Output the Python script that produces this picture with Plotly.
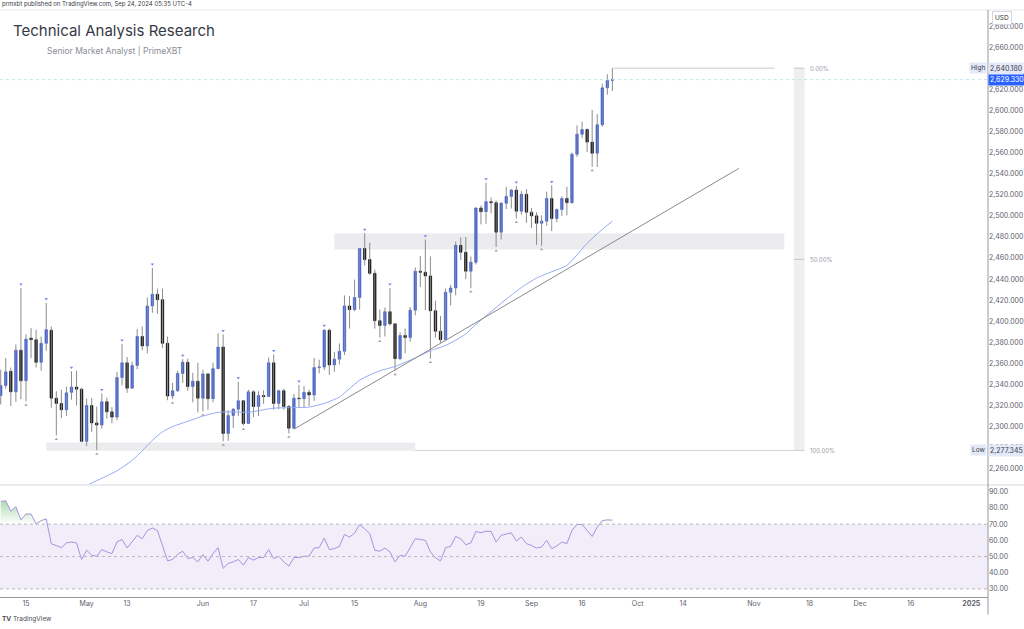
import plotly.graph_objects as go
import pandas as pd

# ---------------- text ----------------
header_text = "prmxbt published on TradingView.com, Sep 24, 2024 05:35 UTC-4"
title_text = "Technical Analysis Research"
subtitle_text = "Senior Market Analyst | PrimeXBT"

# ---------------- daily candles (XAUUSD, D) ----------------
first_day = "2024-04-08"
last_day = "2024-09-24"
opens = [2329.5, 2339.0, 2352.5, 2333.0, 2372.5, 2343.5, 2384.0, 2382.5, 2361.0, 2379.0,
         2391.5, 2327.0, 2322.0, 2316.0, 2332.5, 2337.5, 2335.5, 2286.0, 2320.0, 2303.5,
         2301.5, 2323.5, 2314.0, 2309.0, 2346.5, 2360.5, 2336.5, 2358.0, 2385.5, 2376.5,
         2414.5, 2425.5, 2420.5, 2379.0, 2329.0, 2334.0, 2350.5, 2361.0, 2338.0, 2343.0,
         2327.0, 2350.0, 2326.5, 2355.0, 2375.5, 2293.5, 2310.5, 2316.5, 2324.5, 2303.0,
         2333.0, 2319.0, 2329.5, 2328.5, 2360.5, 2322.0, 2334.0, 2319.0, 2298.5, 2327.0,
         2326.5, 2332.5, 2330.0, 2356.0, 2356.5, 2391.5, 2358.5, 2364.0, 2371.5, 2414.5,
         2411.0, 2422.5, 2469.0, 2458.5, 2445.5, 2400.5, 2396.0, 2409.0, 2397.5, 2364.5,
         2386.5, 2384.5, 2410.5, 2447.5, 2446.5, 2443.0, 2410.0, 2390.5, 2382.5, 2427.5,
         2431.5, 2472.0, 2465.5, 2447.5, 2456.0, 2507.5, 2504.0, 2513.5, 2512.5, 2484.5,
         2512.0, 2518.5, 2524.5, 2504.5, 2520.5, 2503.5, 2500.0, 2493.0, 2495.0, 2516.5,
         2497.5, 2506.0, 2516.5, 2512.5, 2558.5, 2577.5, 2582.0, 2570.0, 2559.5, 2586.5,
         2621.5, 2628.5]
highs = [2354.0, 2365.0, 2356.0, 2378.0, 2431.5, 2387.5, 2393.5, 2392.0, 2385.5, 2417.5,
         2395.0, 2333.5, 2335.0, 2338.0, 2352.5, 2353.0, 2337.0, 2326.5, 2327.0, 2319.0,
         2331.5, 2327.5, 2318.5, 2352.0, 2378.5, 2366.0, 2361.5, 2392.5, 2395.0, 2422.5,
         2450.5, 2431.0, 2431.0, 2385.5, 2341.5, 2353.0, 2364.0, 2364.5, 2351.0, 2360.5,
         2354.0, 2351.0, 2360.5, 2388.5, 2387.5, 2315.5, 2317.5, 2342.5, 2325.0, 2335.0,
         2334.5, 2333.5, 2334.5, 2365.5, 2368.5, 2335.0, 2336.0, 2320.5, 2331.0, 2339.5,
         2338.5, 2335.0, 2365.0, 2363.5, 2392.5, 2393.0, 2371.0, 2379.0, 2424.5, 2424.0,
         2439.5, 2469.5, 2483.5, 2474.5, 2449.0, 2411.0, 2413.0, 2431.5, 2398.0, 2389.5,
         2393.0, 2413.5, 2451.0, 2462.0, 2477.5, 2461.5, 2419.5, 2405.0, 2431.0, 2434.5,
         2475.5, 2479.5, 2480.0, 2461.5, 2508.0, 2510.0, 2531.5, 2517.5, 2514.5, 2513.0,
         2527.5, 2525.5, 2528.5, 2523.5, 2525.5, 2507.5, 2503.5, 2500.5, 2523.0, 2529.0,
         2507.0, 2518.5, 2527.5, 2560.0, 2586.0, 2589.5, 2583.0, 2600.5, 2596.5, 2625.5,
         2634.5, 2640.18]
lows = [2321.0, 2336.0, 2319.5, 2323.5, 2326.0, 2324.0, 2365.0, 2356.0, 2353.0, 2372.0,
        2318.0, 2291.5, 2308.0, 2310.0, 2325.5, 2320.0, 2285.0, 2281.5, 2295.0, 2277.5,
        2298.0, 2307.5, 2303.0, 2306.0, 2339.0, 2332.0, 2336.0, 2354.5, 2372.5, 2369.5,
        2408.0, 2407.0, 2374.5, 2325.0, 2326.0, 2333.0, 2341.5, 2334.0, 2323.0, 2313.5,
        2314.5, 2316.0, 2323.0, 2354.5, 2286.0, 2286.5, 2298.5, 2310.0, 2301.0, 2302.5,
        2309.0, 2310.0, 2321.5, 2328.0, 2316.0, 2316.5, 2316.0, 2293.5, 2298.0, 2318.0,
        2318.5, 2319.5, 2324.5, 2350.5, 2353.5, 2349.0, 2352.0, 2359.0, 2368.0, 2393.0,
        2409.5, 2411.0, 2453.0, 2444.0, 2393.0, 2384.5, 2385.5, 2396.0, 2353.0, 2363.0,
        2369.5, 2380.5, 2405.5, 2432.5, 2410.5, 2364.5, 2384.5, 2379.5, 2381.5, 2415.0,
        2424.5, 2458.0, 2440.0, 2431.5, 2454.0, 2492.0, 2492.5, 2502.5, 2470.5, 2477.5,
        2506.5, 2507.0, 2497.5, 2501.0, 2493.5, 2488.5, 2472.5, 2471.5, 2490.5, 2485.5,
        2494.0, 2500.0, 2500.5, 2511.5, 2556.0, 2574.0, 2560.5, 2546.5, 2546.5, 2584.5,
        2615.0, 2618.5]
closes = [2339.0, 2352.0, 2333.0, 2372.5, 2343.5, 2383.0, 2382.5, 2361.0, 2379.0, 2392.0,
          2327.0, 2322.0, 2316.0, 2332.0, 2337.5, 2335.5, 2286.0, 2320.0, 2303.5, 2301.5,
          2323.5, 2314.0, 2309.0, 2346.5, 2360.5, 2336.5, 2358.0, 2385.5, 2376.5, 2414.5,
          2425.5, 2420.5, 2379.0, 2329.0, 2334.0, 2350.5, 2361.0, 2338.0, 2343.0, 2327.0,
          2350.0, 2326.5, 2355.0, 2375.5, 2293.5, 2310.5, 2316.5, 2324.5, 2303.0, 2333.0,
          2319.0, 2329.5, 2328.5, 2360.5, 2322.0, 2334.0, 2319.0, 2298.5, 2327.0, 2326.5,
          2332.5, 2330.0, 2356.0, 2356.5, 2391.5, 2358.5, 2364.0, 2371.5, 2414.5, 2411.0,
          2422.5, 2469.0, 2458.5, 2445.5, 2400.5, 2396.0, 2409.0, 2397.5, 2364.5, 2386.5,
          2384.5, 2410.5, 2447.5, 2446.5, 2443.0, 2410.0, 2390.5, 2382.5, 2427.5, 2431.5,
          2472.0, 2465.5, 2447.5, 2456.0, 2507.5, 2504.0, 2513.5, 2512.5, 2484.5, 2512.0,
          2518.5, 2524.5, 2504.5, 2520.5, 2503.5, 2500.0, 2493.0, 2495.0, 2516.5, 2497.5,
          2506.0, 2516.5, 2512.5, 2558.5, 2577.5, 2582.0, 2570.0, 2559.5, 2586.5, 2621.5,
          2628.5, 2629.33]

# RSI(14), one value per candle
rsi_values = [84.1, 84.5, 78.0, 80.8, 72.7, 76.3, 76.3, 70.2, 72.2, 73.3,
              58.0, 56.9, 55.5, 58.4, 59.0, 58.4, 48.2, 53.9, 50.8, 50.2,
              54.3, 52.9, 51.8, 59.0, 60.6, 55.3, 59.0, 63.1, 61.0, 66.1,
              67.6, 66.1, 56.9, 47.3, 48.2, 51.4, 53.3, 48.8, 49.4, 46.7,
              51.2, 47.1, 51.8, 55.5, 42.7, 45.7, 46.7, 48.2, 44.7, 49.4,
              47.8, 49.4, 49.4, 54.3, 48.8, 50.2, 46.7, 44.1, 49.4, 49.4,
              50.2, 50.2, 55.3, 55.5, 61.4, 54.3, 54.9, 56.3, 63.7, 62.0,
              64.5, 69.8, 67.1, 64.1, 53.9, 53.3, 55.3, 52.9, 46.7, 50.8,
              50.2, 55.9, 61.0, 60.6, 60.0, 52.9, 49.2, 47.3, 55.5, 56.3,
              62.4, 61.0, 57.3, 58.4, 65.5, 64.7, 65.7, 65.5, 59.0, 63.1,
              64.1, 64.7, 59.6, 62.0, 58.0, 56.9, 55.3, 55.9, 60.0, 54.9,
              56.5, 59.0, 58.0, 66.1, 69.8, 69.8, 66.1, 62.4, 68.2, 72.2,
              72.7, 72.5]

# 50-period moving average, read at selected sessions
ma_dates = ["2024-04-30", "2024-05-01", "2024-05-06", "2024-05-09", "2024-05-14", "2024-05-16",
            "2024-05-20", "2024-05-22", "2024-05-24", "2024-05-29", "2024-06-03", "2024-06-06",
            "2024-06-11", "2024-06-14", "2024-06-19", "2024-06-21", "2024-06-27", "2024-07-02",
            "2024-07-05", "2024-07-10", "2024-07-12", "2024-07-16", "2024-07-18", "2024-07-22",
            "2024-07-25", "2024-07-29", "2024-07-31", "2024-08-05", "2024-08-08", "2024-08-12",
            "2024-08-14", "2024-08-16", "2024-08-20", "2024-08-22", "2024-08-26", "2024-08-29",
            "2024-09-03", "2024-09-06", "2024-09-11", "2024-09-13", "2024-09-17", "2024-09-19",
            "2024-09-24"]
ma_values = [2240.0, 2244.0, 2251.0, 2258.0, 2268.0, 2277.0,
             2287.0, 2295.0, 2300.0, 2305.0, 2310.0, 2313.5,
             2314.0, 2313.5, 2316.0, 2317.5, 2318.0, 2318.5,
             2322.0, 2328.0, 2336.0, 2344.0, 2349.0, 2353.0,
             2357.0, 2361.0, 2365.0, 2372.0, 2377.0, 2382.0,
             2388.0, 2397.0, 2405.0, 2413.0, 2421.0, 2432.0,
             2441.0, 2447.0, 2453.0, 2463.0, 2474.0, 2483.0,
             2495.0]

# pivot markers
pivot_high_dates = ["2024-04-12", "2024-04-19", "2024-04-26", "2024-05-06", "2024-05-10", "2024-05-20",
                    "2024-05-28", "2024-06-07", "2024-06-12", "2024-06-21", "2024-06-28", "2024-07-05",
                    "2024-07-17", "2024-07-24", "2024-08-02", "2024-08-20", "2024-08-28", "2024-09-06"]
pivot_low_dates = ["2024-04-15", "2024-04-23", "2024-05-03", "2024-05-24", "2024-06-03", "2024-06-07",
                   "2024-06-13", "2024-06-26", "2024-07-22", "2024-07-25", "2024-08-05", "2024-08-15",
                   "2024-08-22", "2024-08-28", "2024-09-04", "2024-09-18"]

# drawings
zone_support = {"start": "2024-04-19", "end": "2024-07-31", "bottom": 2277.0, "top": 2285.0}
zone_resist = {"start": "2024-07-09", "end": "2024-11-11", "bottom": 2468.0, "top": 2483.5}
trend_dates = ["2024-06-27", "2024-10-29"]
trend_prices = [2297.5, 2545.0]
range_high = 2640.18
range_low = 2277.345
last_price = 2629.33
fib_levels = [0.0, 0.5, 1.0]
fib_labels = ["0.00%", "50.00%", "100.00%"]
fib_bar_date = "2024-11-14"
high_line_end = "2024-11-07"
low_line_start = "2024-07-31"

# axis ticks
price_ticks = [2260, 2280, 2300, 2320, 2340, 2360, 2380, 2400, 2420, 2440, 2460, 2480,
               2500, 2520, 2540, 2560, 2580, 2600, 2620, 2660, 2680]
rsi_ticks = [30, 40, 50, 60, 70, 80, 90]
xtick_dates = ["2024-04-15", "2024-05-01", "2024-05-13", "2024-06-03", "2024-06-17", "2024-07-01",
               "2024-07-15", "2024-08-01", "2024-08-19", "2024-09-02", "2024-09-16", "2024-10-01",
               "2024-10-14", "2024-11-01", "2024-11-18", "2024-12-02", "2024-12-16", "2025-01-01"]
xtick_text = ["15", "May", "13", "Jun", "17", "Jul", "15", "Aug", "19", "Sep", "16", "Oct",
              "14", "Nov", "18", "Dec", "16", "<b>2025</b>"]

# ---------------- session index (trading-day axis) ----------------
calendar = pd.bdate_range(first_day, "2025-02-28")
pos = {d.strftime("%Y-%m-%d"): k for k, d in enumerate(calendar)}
n = len(closes)
xs = list(range(n))


def px(d):
    return pos[d]


BLUE = "#3457e2"
WICK = "#8c8c8c"
TXT = "#5d606b"
FONT = "Inter"

fig = go.Figure()

# wicks
wx, wy = [], []
for i in range(n):
    wx += [i, i, None]
    wy += [lows[i], highs[i], None]
fig.add_trace(go.Scatter(x=wx, y=wy, mode="lines", line=dict(color=WICK, width=1),
                         hoverinfo="skip", xaxis="x", yaxis="y"))

# bodies
b_hi = [max(o, c) for o, c in zip(opens, closes)]
b_lo = [min(o, c) for o, c in zip(opens, closes)]
fig.add_trace(go.Candlestick(x=xs, open=opens, high=b_hi, low=b_lo, close=closes,
                             increasing=dict(fillcolor=BLUE, line=dict(color=BLUE, width=0.6)),
                             decreasing=dict(fillcolor="#000000", line=dict(color="#000000", width=0.6)),
                             hoverinfo="skip", xaxis="x", yaxis="y"))

# moving average
fig.add_trace(go.Scatter(x=[px(d) for d in ma_dates], y=ma_values, mode="lines",
                         line=dict(color="#93a9f5", width=1, shape="spline", smoothing=0.6),
                         hoverinfo="skip", xaxis="x", yaxis="y"))

# trend line
fig.add_trace(go.Scatter(x=[px(d) for d in trend_dates], y=trend_prices, mode="lines",
                         line=dict(color="#8a8a8a", width=1), hoverinfo="skip", xaxis="x", yaxis="y"))

# pivot markers
ph_x = [px(d) for d in pivot_high_dates]
ph_y = [highs[px(d)] + 3.5 for d in pivot_high_dates]
pl_x = [px(d) for d in pivot_low_dates]
pl_y = [lows[px(d)] - 3.5 for d in pivot_low_dates]
fig.add_trace(go.Scatter(x=ph_x, y=ph_y, mode="markers",
                         marker=dict(symbol="triangle-down", size=3, color="#6a86f2"),
                         hoverinfo="skip", xaxis="x", yaxis="y"))
fig.add_trace(go.Scatter(x=pl_x, y=pl_y, mode="markers",
                         marker=dict(symbol="triangle-up", size=3, color="#a0a0a0"),
                         hoverinfo="skip", xaxis="x", yaxis="y"))

# RSI overbought gradient fill
fig.add_trace(go.Scatter(x=xs, y=[70] * n, mode="lines", line=dict(width=0),
                         hoverinfo="skip", xaxis="x2", yaxis="y2"))
fig.add_trace(go.Scatter(x=xs, y=[max(v, 70) for v in rsi_values], mode="lines", line=dict(width=0),
                         fill="tonexty",
                         fillgradient=dict(type="vertical",
                                           colorscale=[[0, "rgba(76,175,80,0.0)"], [1, "rgba(76,175,80,0.45)"]]),
                         hoverinfo="skip", xaxis="x2", yaxis="y2"))
# RSI line
fig.add_trace(go.Scatter(x=xs, y=rsi_values, mode="lines", line=dict(color="#a294de", width=1),
                         hoverinfo="skip", xaxis="x2", yaxis="y2"))

shapes = []
# zones
for z in (zone_support, zone_resist):
    shapes.append(dict(type="rect", xref="x", yref="y", x0=px(z["start"]), x1=px(z["end"]),
                       y0=z["bottom"], y1=z["top"], fillcolor="#ececef", line=dict(width=0), layer="below"))
# fib bar
fb = px(fib_bar_date)
shapes.append(dict(type="rect", xref="x", yref="y", x0=fb - 1.1, x1=fb + 1.0,
                   y0=range_low, y1=range_high, fillcolor="#efeff1", line=dict(width=0), layer="below"))
for lv in fib_levels:
    p = range_high - lv * (range_high - range_low)
    shapes.append(dict(type="line", xref="x", yref="y", x0=fb - 1.1, x1=fb + 1.0, y0=p, y1=p,
                       line=dict(color="#c4c4c8", width=1)))
# high / low range lines
shapes.append(dict(type="line", xref="x", yref="y", x0=n - 1, x1=px(high_line_end), y0=range_high, y1=range_high,
                   line=dict(color="#c8c8cc", width=1)))
shapes.append(dict(type="line", xref="x", yref="y", x0=px(low_line_start), x1=fb + 1.0, y0=range_low, y1=range_low,
                   line=dict(color="#d4d4d8", width=1)))
# last price line
shapes.append(dict(type="line", xref="paper", yref="y", x0=0, x1=1, y0=last_price, y1=last_price,
                   line=dict(color="#b4e0dc", width=0.8, dash="dot")))
# RSI band + levels
shapes.append(dict(type="rect", xref="paper", yref="y2", x0=0, x1=1, y0=30, y1=70,
                   fillcolor="rgba(126,87,194,0.10)", line=dict(width=0), layer="below"))
for lv in (70, 50, 30):
    shapes.append(dict(type="line", xref="paper", yref="y2", x0=0, x1=1, y0=lv, y1=lv,
                       line=dict(color="#b8b8c0", width=1, dash="dot")))
# frame lines
shapes.append(dict(type="line", xref="paper", yref="paper", x0=0, x1=1.037, y0=0.1908, y1=0.1908,
                   line=dict(color="#d6d8de", width=1)))
shapes.append(dict(type="line", xref="paper", yref="paper", x0=0, x1=1.037, y0=1.0, y1=1.0,
                   line=dict(color="#e6e8ee", width=1)))
shapes.append(dict(type="line", xref="paper", yref="paper", x0=1.0, x1=1.0, y0=-0.03, y1=1.0,
                   line=dict(color="#9598a1", width=1)))

ann = []
ann.append(dict(text=header_text, xref="paper", yref="paper", x=0.0, y=1.0105, xanchor="left", yanchor="middle",
                showarrow=False, font=dict(family=FONT, size=6, color="#3a3d45")))
ann.append(dict(text=title_text, xref="paper", yref="paper", x=0.0115, y=0.9655, xanchor="left", yanchor="middle",
                showarrow=False, font=dict(family=FONT, size=15, color="#363a45")))
ann.append(dict(text=subtitle_text, xref="paper", yref="paper", x=0.0455, y=0.9315, xanchor="left", yanchor="middle",
                showarrow=False, font=dict(family=FONT, size=8.5, color="#8a8d96")))
ann.append(dict(text="<b>TV</b> TradingView", xref="paper", yref="paper", x=0.0, y=-0.0375, xanchor="left",
                yanchor="middle", showarrow=False, font=dict(family=FONT, size=6.5, color="#4a4d55")))
ann.append(dict(text="USD", xref="paper", yref="paper", x=1.004, y=0.9864, xanchor="left", yanchor="middle",
                showarrow=False, font=dict(family=FONT, size=6.5, color="#333"),
                bordercolor="#d6d8de", borderwidth=1, borderpad=2, bgcolor="white"))
# price labels on the scale
ann.append(dict(text=f"{last_price:,.3f}", xref="paper", yref="y", x=1.0, y=last_price, xanchor="left",
                yanchor="middle", showarrow=False, font=dict(family=FONT, size=7, color="white"),
                bgcolor="#2962ff", borderpad=1))
for lab, val in (("High", range_high), ("Low", range_low)):
    ann.append(dict(text=f"{val:,.3f}", xref="paper", yref="y", x=1.0, y=val, xanchor="left",
                    yanchor="middle", showarrow=False, font=dict(family=FONT, size=7, color="#3a3d45"),
                    bgcolor="#e3e9f8", borderpad=1))
    ann.append(dict(text=lab, xref="paper", yref="y", x=0.999, y=val, xanchor="right",
                    yanchor="middle", showarrow=False, font=dict(family=FONT, size=6.5, color="#3a3d45"),
                    bgcolor="#e3e9f8", borderpad=1))
# fib labels
for lv, lab in zip(fib_levels, fib_labels):
    p = range_high - lv * (range_high - range_low)
    ann.append(dict(text=lab, xref="x", yref="y", x=fb + 1.6, y=p, xanchor="left", yanchor="middle",
                    showarrow=False, font=dict(family=FONT, size=6, color="#9a9ca3")))

xr = [-0.14, 195.3]
fig.update_layout(
    width=1024, height=629,
    margin=dict(l=0, r=36, t=10, b=32),
    paper_bgcolor="white", plot_bgcolor="white",
    showlegend=False, hovermode=False,
    shapes=shapes, annotations=ann,
    xaxis=dict(domain=[0, 1], range=xr, showgrid=False, zeroline=False, showticklabels=False,
               anchor="y", fixedrange=True),
    xaxis2=dict(domain=[0, 1], range=xr, matches="x", showgrid=False, zeroline=False, anchor="y2",
                tickvals=[px(d) for d in xtick_dates], ticktext=xtick_text,
                tickfont=dict(family=FONT, size=7, color=TXT), ticks="", showline=True,
                linecolor="#9598a1", linewidth=1, rangeslider=dict(visible=False)),
    yaxis=dict(domain=[0.1925, 1.0], range=[2245.5, 2695.4], side="right", anchor="x",
               tickvals=price_ticks, tickformat=",.3f", showgrid=False, zeroline=False,
               tickfont=dict(family=FONT, size=7, color=TXT), ticks=""),
    yaxis2=dict(domain=[0.0, 0.1874], range=[25.0, 93.0], side="right", anchor="x2",
                tickvals=rsi_ticks, tickformat=".2f", showgrid=False, zeroline=False,
                tickfont=dict(family=FONT, size=7, color=TXT), ticks=""),
)
fig.update_xaxes(rangeslider_visible=False)

fig.write_html("out.html", config={"displayModeBar": False},
               post_script="document.body.style.margin='0px';document.body.style.padding='0px';")
